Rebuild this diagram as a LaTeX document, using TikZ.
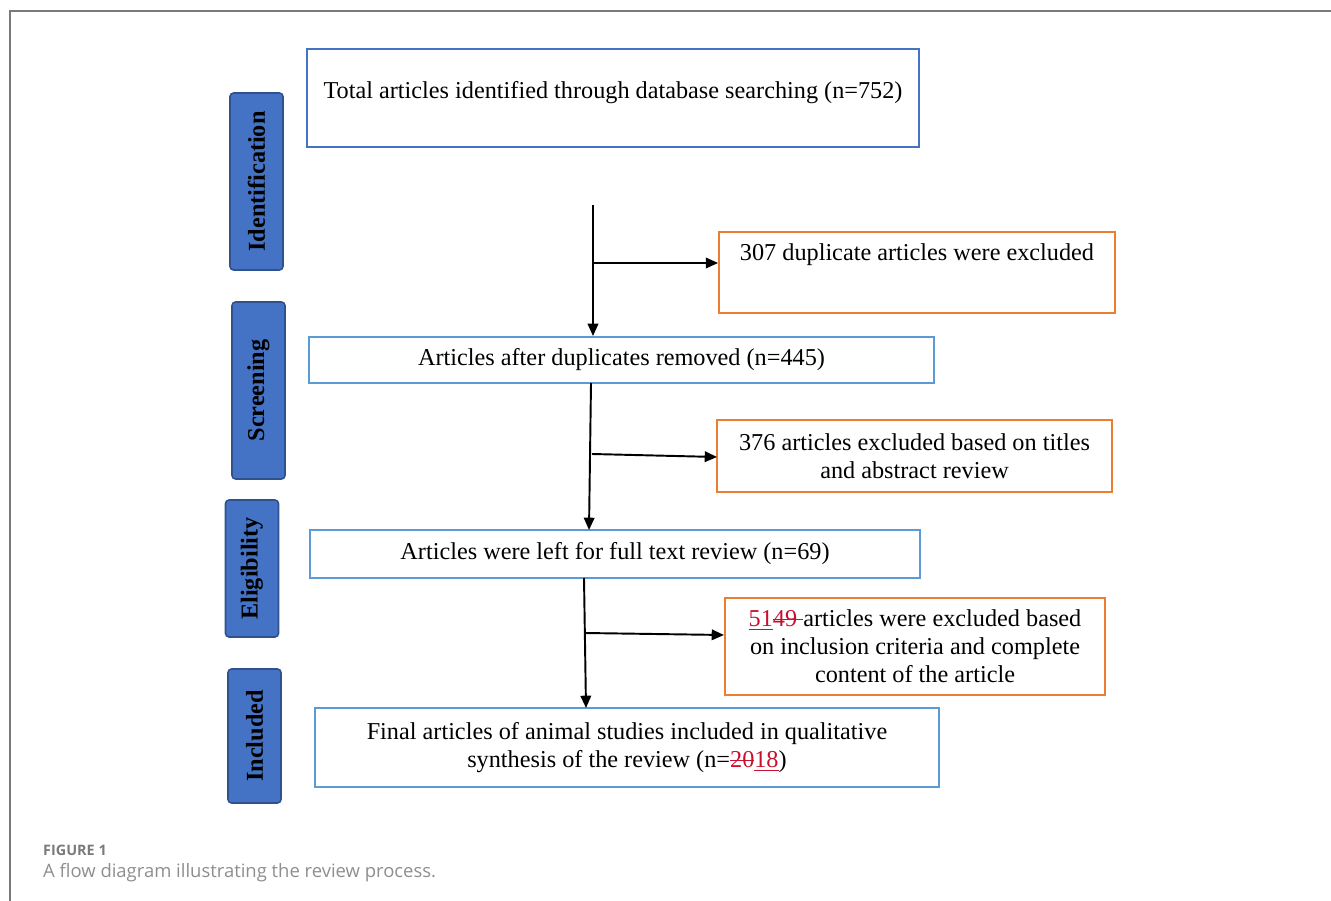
\documentclass[tikz,border=0pt]{standalone}
\usepackage{fontspec}
\setmainfont{Liberation Serif}
\newfontfamily\capfont{Open Sans}
\usetikzlibrary{arrows.meta}
\definecolor{stageblue}{HTML}{4472C4}
\definecolor{stageedge}{HTML}{2F528F}
\definecolor{flowblue}{HTML}{5B9BD5}
\definecolor{exclorange}{HTML}{ED7D31}
\definecolor{editred}{HTML}{C8102E}
\definecolor{framegray}{HTML}{7A7A7A}
\newsavebox{\editbox}
\newcommand{\ins}[1]{{\color{editred}\underline{#1}}}
\newcommand{\del}[1]{{\color{editred}\sbox{\editbox}{#1}%
  \rlap{\rule[0.27em]{\wd\editbox}{0.5pt}}\usebox{\editbox}}}
\begin{document}
\begin{tikzpicture}[x=0.02cm,y=-0.02cm,
    font=\fontsize{13.8}{15.9}\selectfont,
    flow/.style={draw=flowblue,line width=1.1pt,inner sep=0pt,align=center},
    excl/.style={draw=exclorange,line width=1.1pt,inner sep=0pt,align=center},
    stage/.style={draw=stageedge,fill=stageblue,line width=0.9pt,rounded corners=2pt,
      rotate=90,inner sep=0pt,minimum height=1.06cm,font=\fontsize{13.8}{16}\selectfont\bfseries},
    link/.style={line width=1.1pt,-{Triangle[length=7pt,width=6pt]}}]
  \useasboundingbox (0,0) rectangle (1331,901);
  % frame
  \draw[framegray,line width=0.9pt] (1331,11) -- (10,11) -- (10,901);
  % stages
  \node[stage,minimum width=3.54cm] (ident) at (256.5,181.5) {Identification};
  \node[stage,minimum width=3.54cm] (screen) at (258.5,390.5) {Screening};
  \node[stage,minimum width=2.74cm] (elig) at (252,568.5) {Eligibility};
  \node[stage,minimum width=2.68cm] (incl) at (254.5,736) {Included};
  % main flow
  \node[flow,draw=stageblue,minimum width=12.24cm,text height=1cm,text depth=0.96cm]
    (total) at (613,98) {Total articles identified through database searching (n=752)};
  \node[flow,minimum width=12.5cm,minimum height=0.92cm] (nodup) at (621.5,360)
    {Articles after duplicates removed (n=445)};
  \node[flow,minimum width=12.2cm,minimum height=0.96cm] (full) at (615,554)
    {Articles were left for full text review (n=69)};
  \node[flow,minimum width=12.48cm,minimum height=1.58cm] (final) at (627,747.5)
    {Final articles of animal studies included in qualitative\\
     synthesis of the review (n=\del{20}\ins{18})};
  % exclusions
  \node[excl,minimum width=7.92cm,text height=0.58cm,text depth=1.04cm] (dup) at (917,272.5)
    {307 duplicate articles were excluded};
  \node[excl,minimum width=7.9cm,minimum height=1.44cm] (title) at (914.5,456)
    {376 articles excluded based on titles\\ and abstract review};
  \node[excl,minimum width=7.6cm,minimum height=1.94cm] (crit) at (915,646.5)
    {\ins{51}\del{49 }articles were excluded based\\ on inclusion criteria and complete\\ content of the article};
  % connectors
  \coordinate (s1) at (593,205);
  \coordinate (b1) at (593,263);
  \draw[link] (s1) -- (s1 |- nodup.north);
  \draw[link] (b1) -- (b1 -| dup.west);
  \coordinate (s2) at (591,383);
  \coordinate (e2) at (589,530);
  \coordinate (b2) at (592,454);
  \coordinate (t2) at (717,457);
  \draw[link] (s2) -- (e2);
  \draw[link] (b2) -- (t2);
  \coordinate (s3) at (584,578);
  \coordinate (e3) at (586,708);
  \coordinate (b3) at (585,633);
  \coordinate (t3) at (724,635);
  \draw[link] (s3) -- (e3);
  \draw[link] (b3) -- (t3);
  % caption
  \node[anchor=west,text=framegray,font=\capfont\fontsize{8.2}{10}\selectfont\bfseries] (figno) at (37,850) {FIGURE 1};
  \node[anchor=west,text=framegray!85,font=\capfont\fontsize{10.5}{12}\selectfont] (cap) at (37,873)
    {A flow diagram illustrating the review process.};
\end{tikzpicture}
\end{document}
